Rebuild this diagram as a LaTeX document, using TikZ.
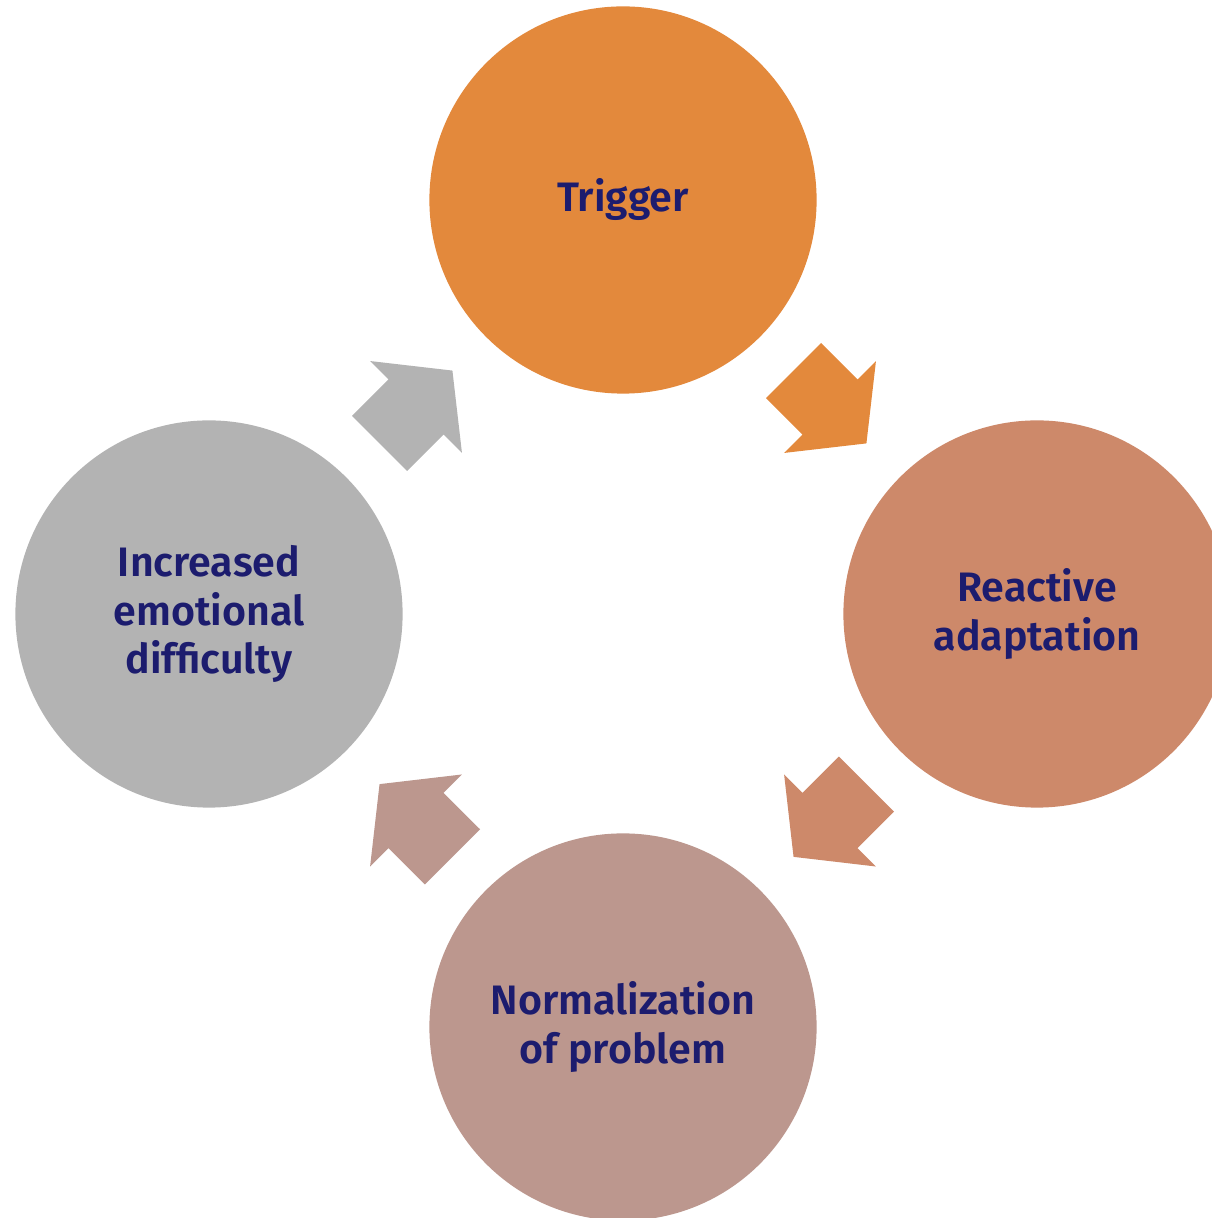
\documentclass[tikz,border=0pt]{standalone}
\usepackage{fontspec}
\setmainfont{Fira Sans}
\newfontfamily\stagefont{Fira Sans SemiBold}
\usepackage{xcolor}
\usepackage{tikz}
\usetikzlibrary{calc}

\definecolor{triggerorange}{HTML}{E3893C}
\definecolor{reactivecopper}{HTML}{CD896A}
\definecolor{normalrose}{HTML}{BC978E}
\definecolor{increasedgrey}{HTML}{B3B3B3}
\definecolor{labelnavy}{HTML}{1C1C6E}

\begin{document}
\begin{tikzpicture}[x=0.01cm, y=0.01cm,
    stage/.style={circle, minimum size=3.87cm, inner sep=0pt, align=center,
      text=labelnavy, font=\fontsize{11.7}{13.7}\stagefont},
    flowarrow/.pic={
      \fill (-51.5,-39) -- (0,-39) -- (0,-65) -- (51.5,0) -- (0,65)
        -- (0,39) -- (-51.5,39) -- cycle;
    }]
  \useasboundingbox (0,0) rectangle (1212,1218);
  \clip (0,0) rectangle (1212,1218);

  \node[stage, fill=triggerorange]  (trigger)   at (623,1018) {Trigger};
  \node[stage, fill=reactivecopper] (reactive)  at (1037,604) {Reactive\\adaptation};
  \node[stage, fill=normalrose]     (normalize) at (623,191)  {Normalization\\of problem};
  \node[stage, fill=increasedgrey]  (increased) at (209,604)  {Increased\\emotional\\difficulty};

  % block arrows between the stages
  \path let \p1 = ($(reactive)-(trigger)$), \n1 = {atan2(\y1,\x1)} in
    pic[rotate=\n1, fill=triggerorange] at ($(trigger)!0.5!(reactive)$) {flowarrow};
  \path let \p1 = ($(normalize)-(reactive)$), \n1 = {atan2(\y1,\x1)} in
    pic[rotate=\n1, fill=reactivecopper] at ($(reactive)!0.5!(normalize)$) {flowarrow};
  \path let \p1 = ($(increased)-(normalize)$), \n1 = {atan2(\y1,\x1)} in
    pic[rotate=\n1, fill=normalrose] at ($(normalize)!0.5!(increased)$) {flowarrow};
  \path let \p1 = ($(trigger)-(increased)$), \n1 = {atan2(\y1,\x1)} in
    pic[rotate=\n1, fill=increasedgrey] at ($(increased)!0.5!(trigger)$) {flowarrow};
\end{tikzpicture}
\end{document}
